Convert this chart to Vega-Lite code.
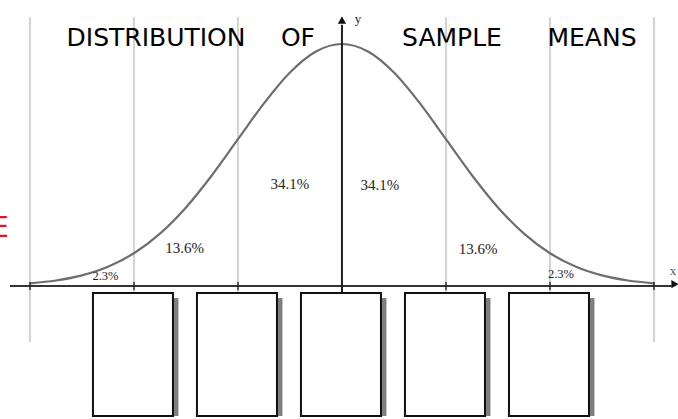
{
  "$schema": "https://vega.github.io/schema/vega-lite/v6.json",
  "width": 678,
  "height": 419,
  "padding": 0,
  "autosize": "none",
  "background": "white",
  "config": {"view": {"stroke": null}},
  "datasets": {
    "curve": [
      {"z": -3, "d": 0.0111}, {"z": -2.75, "d": 0.0228}, {"z": -2.5, "d": 0.0439}, {"z": -2.25, "d": 0.0796},
      {"z": -2, "d": 0.1353}, {"z": -1.75, "d": 0.2163}, {"z": -1.5, "d": 0.3247}, {"z": -1.25, "d": 0.4578},
      {"z": -1, "d": 0.6065}, {"z": -0.75, "d": 0.7548}, {"z": -0.5, "d": 0.8825}, {"z": -0.25, "d": 0.9692},
      {"z": 0, "d": 1}, {"z": 0.25, "d": 0.9692}, {"z": 0.5, "d": 0.8825}, {"z": 0.75, "d": 0.7548},
      {"z": 1, "d": 0.6065}, {"z": 1.25, "d": 0.4578}, {"z": 1.5, "d": 0.3247}, {"z": 1.75, "d": 0.2163},
      {"z": 2, "d": 0.1353}, {"z": 2.25, "d": 0.0796}, {"z": 2.5, "d": 0.0439}, {"z": 2.75, "d": 0.0228},
      {"z": 3, "d": 0.0111}
    ],
    "grid": [{"z": -3}, {"z": -2}, {"z": -1}, {"z": 0}, {"z": 1}, {"z": 2}, {"z": 3}],
    "boxes": [{"z": -2}, {"z": -1}, {"z": 0}, {"z": 1}, {"z": 2}],
    "labels": [
      {"z": -0.5, "h": 0.4215, "t": "34.1%", "s": "big"},
      {"z": 0.365, "h": 0.417, "t": "34.1%", "s": "big"},
      {"z": -1.514, "h": 0.159, "t": "13.6%", "s": "big"},
      {"z": 1.308, "h": 0.153, "t": "13.6%", "s": "big"},
      {"z": -2.274, "h": 0.041, "t": "2.3%", "s": "small"},
      {"z": 2.106, "h": 0.0496, "t": "2.3%", "s": "small"}
    ],
    "title": [
      {"z": -1.788, "h": 1.025, "t": "DISTRIBUTION"},
      {"z": -0.423, "h": 1.025, "t": "OF"},
      {"z": 1.058, "h": 1.025, "t": "SAMPLE"},
      {"z": 2.404, "h": 1.025, "t": "MEANS"}
    ]
  },
  "layer": [
    {
      "data": {"name": "grid"},
      "mark": {"type": "rule", "color": "#d2d2d2", "strokeWidth": 2},
      "encoding": {
        "x": {"field": "z", "type": "quantitative", "scale": {"domain": [-3.288, 3.231], "nice": false, "zero": false, "padding": 0}, "axis": null},
        "y": {"datum": -0.231, "type": "quantitative", "scale": {"domain": [-0.5496, 1.1818], "nice": false, "zero": false, "padding": 0}, "axis": null},
        "y2": {"datum": 1.112}
      }
    },
    {
      "data": {"name": "curve"},
      "mark": {"type": "line", "color": "#6e6e6e", "strokeWidth": 2.2, "interpolate": "monotone"},
      "encoding": {
        "x": {"field": "z", "type": "quantitative"},
        "y": {"field": "d", "type": "quantitative"}
      }
    },
    {
      "data": {"values": [{}]},
      "mark": {"type": "rule", "color": "#333333", "strokeWidth": 2},
      "encoding": {
        "x": {"datum": -3.192, "type": "quantitative"},
        "x2": {"datum": 3.17},
        "y": {"datum": 0, "type": "quantitative"}
      }
    },
    {
      "data": {"values": [{}]},
      "mark": {"type": "rule", "color": "#222222", "strokeWidth": 2},
      "encoding": {
        "x": {"datum": 0, "type": "quantitative"},
        "y": {"datum": -0.029, "type": "quantitative"},
        "y2": {"datum": 1.078}
      }
    },
    {
      "data": {"name": "grid"},
      "mark": {"type": "tick", "orient": "vertical", "color": "#222222", "size": 8, "thickness": 2},
      "encoding": {
        "x": {"field": "z", "type": "quantitative"},
        "y": {"datum": 0, "type": "quantitative"}
      }
    },
    {
      "data": {"values": [{}]},
      "mark": {"type": "point", "shape": "triangle-up", "filled": true, "color": "#111111", "size": 70, "opacity": 1},
      "encoding": {
        "x": {"datum": 0, "type": "quantitative"},
        "y": {"datum": 1.099, "type": "quantitative"}
      }
    },
    {
      "data": {"values": [{}]},
      "mark": {"type": "point", "shape": "triangle-right", "filled": true, "color": "#111111", "size": 70, "opacity": 1},
      "encoding": {
        "x": {"datum": 3.202, "type": "quantitative"},
        "y": {"datum": 0.008, "type": "quantitative"}
      }
    },
    {
      "data": {"name": "boxes"},
      "mark": {"type": "bar", "width": 81, "fill": "#7f7f7f", "xOffset": 4, "yOffset": 5},
      "encoding": {
        "x": {"field": "z", "type": "quantitative"},
        "y": {"datum": -0.029, "type": "quantitative"},
        "y2": {"datum": -0.537}
      }
    },
    {
      "data": {"name": "boxes"},
      "mark": {"type": "bar", "width": 80, "fill": "white", "stroke": "#111111", "strokeWidth": 2, "xOffset": -1},
      "encoding": {
        "x": {"field": "z", "type": "quantitative"},
        "y": {"datum": -0.029, "type": "quantitative"},
        "y2": {"datum": -0.537}
      }
    },
    {
      "data": {"name": "labels"},
      "mark": {"type": "text", "font": "Liberation Serif", "color": "#222222", "baseline": "middle", "align": "center"},
      "encoding": {
        "x": {"field": "z", "type": "quantitative"},
        "y": {"field": "h", "type": "quantitative"},
        "text": {"field": "t"},
        "size": {"field": "s", "type": "nominal", "scale": {"domain": ["big", "small"], "range": [15, 12.5]}, "legend": null}
      }
    },
    {
      "data": {"name": "title"},
      "mark": {"type": "text", "font": "DejaVu Sans", "fontSize": 25, "color": "#000000", "baseline": "middle", "align": "center"},
      "encoding": {
        "x": {"field": "z", "type": "quantitative"},
        "y": {"field": "h", "type": "quantitative"},
        "text": {"field": "t"}
      }
    },
    {
      "data": {"values": [{}]},
      "mark": {"type": "text", "font": "Liberation Serif", "fontSize": 13, "color": "#222222", "text": "y", "baseline": "middle"},
      "encoding": {
        "x": {"datum": 0.154, "type": "quantitative"},
        "y": {"datum": 1.103, "type": "quantitative"}
      }
    },
    {
      "data": {"values": [{}]},
      "mark": {"type": "text", "font": "Liberation Serif", "fontSize": 13, "color": "#555555", "text": "x", "baseline": "middle"},
      "encoding": {
        "x": {"datum": 3.183, "type": "quantitative"},
        "y": {"datum": 0.062, "type": "quantitative"}
      }
    },
    {
      "data": {"values": [{}]},
      "mark": {"type": "text", "font": "DejaVu Sans", "fontSize": 28, "color": "#e8141b", "text": "E", "align": "right", "baseline": "middle"},
      "encoding": {
        "x": {"datum": -3.202, "type": "quantitative"},
        "y": {"datum": 0.2355, "type": "quantitative"}
      }
    }
  ]
}
